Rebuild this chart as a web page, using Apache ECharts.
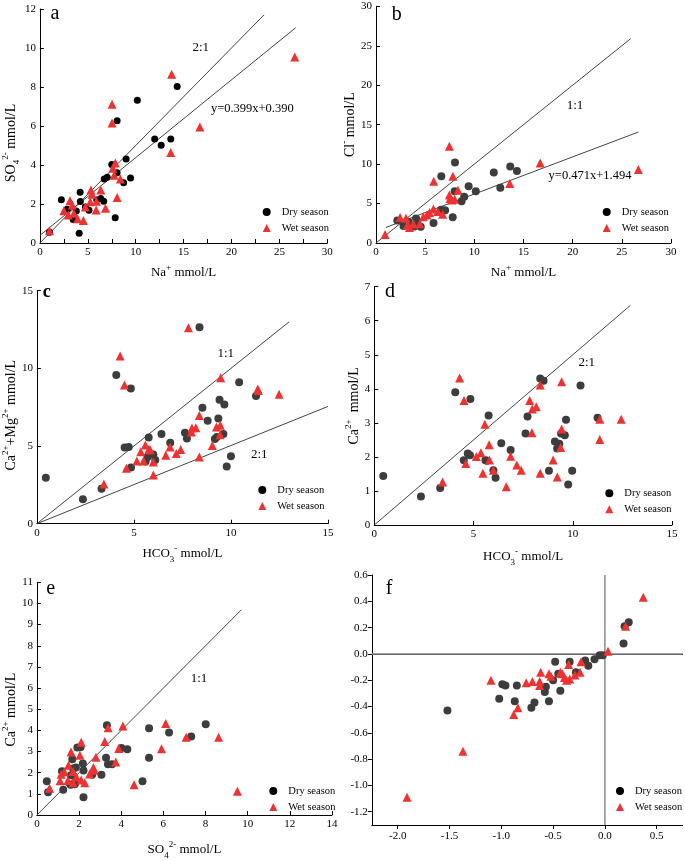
<!DOCTYPE html>
<html><head><meta charset="utf-8">
<script src="https://cdn.jsdelivr.net/npm/echarts@6/dist/echarts.min.js"></script>
<style>html,body{margin:0;padding:0;background:#fff}#c{width:685px;height:861px}</style>
</head><body><div id="c"></div>
<script>
// ---------- DATA ----------
const aDry = [[1.0,0.55],[2.24,2.22],[2.84,1.73],[3.48,1.21],[3.8,1.64],[4.2,2.6],[4.22,2.13],[4.1,0.5],[4.75,1.85],[5.12,1.68],[5.94,2.2],[6.35,2.28],[6.66,2.14],[6.72,3.28],[7.03,3.37],[7.5,4.02],[7.86,1.3],[8.06,6.27],[8.06,3.6],[8.74,3.09],[9.0,4.31],[9.46,3.33],[10.17,7.32],[11.98,5.33],[12.66,5.01],[13.66,5.33],[14.33,8.02]];
const aWet = [[1.0,0.63],[2.5,1.65],[2.97,1.44],[3.14,2.17],[3.38,1.95],[3.55,1.52],[3.93,1.25],[4.54,1.16],[4.75,1.84],[5.26,2.12],[5.33,2.72],[5.45,2.5],[5.87,1.69],[5.9,2.14],[6.35,2.72],[6.85,1.78],[7.53,7.12],[7.53,6.16],[7.61,3.83],[7.75,3.47],[7.87,4.1],[8.06,2.33],[8.4,3.28],[13.66,4.64],[13.75,8.65],[16.7,5.95],[26.6,9.54]];
const aLine21 = [[0,0],[23.4,11.7]];
const aReg = [[0,0.39],[26.7,11.04]];

const bDry = [[2.17,2.85],[2.8,2.15],[3.3,2.7],[3.46,2.15],[3.9,2.1],[4.07,3.12],[4.2,2.8],[4.55,2.06],[5.85,2.55],[6.64,8.45],[6.61,4.2],[7.03,4.15],[7.8,3.25],[8.03,10.2],[8.0,6.55],[8.7,5.3],[8.97,5.85],[9.42,7.2],[10.15,6.55],[11.98,8.92],[12.64,7.0],[13.65,9.68],[14.33,9.12]];
const bWet = [[0.92,1.07],[2.45,3.24],[3.05,3.15],[3.2,2.3],[3.4,1.98],[3.8,2.4],[4.45,2.45],[4.81,3.33],[5.18,3.54],[5.45,3.86],[5.84,4.3],[6.28,4.0],[6.78,3.65],[5.87,7.84],[7.46,12.25],[7.82,8.45],[7.46,6.07],[7.53,5.65],[7.7,5.45],[8.0,5.55],[8.34,6.68],[13.6,7.55],[16.7,10.15],[26.68,9.3]];
const bLine11 = [[0,0],[25.9,25.9]];
const bReg = [[1.0,1.97],[26.7,14.07]];

const cDry = [[0.46,2.96],[2.37,1.57],[3.33,2.25],[4.09,9.57],[4.52,4.9],[4.73,4.93],[4.84,8.71],[4.85,3.62],[5.6,4.0],[5.7,4.3],[5.76,5.55],[6.0,4.45],[6.1,4.1],[6.42,5.77],[6.87,5.21],[7.63,5.86],[7.73,5.49],[8.38,12.64],[8.53,7.47],[8.8,6.62],[9.35,6.77],[9.41,7.98],[9.66,7.68],[9.17,5.46],[9.27,5.58],[9.61,5.77],[9.78,3.68],[10.0,4.35],[10.42,9.1],[11.29,8.22]];
const cWet = [[3.45,2.55],[4.29,10.79],[4.51,8.93],[4.61,3.57],[5.15,4.03],[5.35,4.64],[5.5,4.03],[5.59,5.07],[5.77,4.8],[5.84,4.75],[6.0,3.97],[6.0,3.13],[6.64,4.4],[6.86,4.93],[7.18,4.52],[7.41,4.77],[7.81,12.62],[7.96,5.9],[7.99,6.16],[8.19,6.18],[8.37,6.96],[8.37,4.3],[9.04,5.03],[9.25,6.22],[9.45,6.33],[9.44,5.73],[9.47,9.4],[11.38,8.67],[11.41,8.58],[12.48,8.33]];
const cLine11 = [[0,0],[13.0,13.0]];
const cLine21 = [[0,0],[15,7.55]];

const dDry = [[0.45,1.44],[2.35,0.84],[3.32,1.09],[4.08,3.9],[4.51,1.9],[4.71,2.1],[4.82,2.05],[4.84,3.7],[5.6,1.9],[5.68,1.89],[5.76,3.22],[6.0,1.61],[6.11,1.39],[6.4,2.4],[6.87,2.2],[7.62,2.69],[7.72,3.19],[8.36,4.3],[8.53,4.24],[8.8,1.59],[9.1,2.45],[9.21,2.25],[9.32,2.39],[9.41,2.69],[9.6,2.64],[9.66,3.09],[9.77,1.19],[9.97,1.59],[10.39,4.1],[11.25,3.15]];
const dWet = [[3.44,1.26],[4.3,4.32],[4.52,3.66],[4.61,1.81],[5.14,2.01],[5.37,2.12],[5.47,1.52],[5.57,2.96],[5.79,2.36],[5.8,1.91],[6.0,1.61],[6.65,1.12],[6.87,2.02],[7.18,1.76],[7.4,1.61],[7.83,3.66],[7.94,2.71],[7.96,3.41],[8.16,3.47],[8.36,1.52],[8.36,4.11],[9.01,1.91],[9.22,1.41],[9.39,2.28],[9.44,2.82],[9.44,4.21],[11.36,3.11],[11.36,2.51],[12.44,3.11]];
const dLine21 = [[0,0],[12.9,6.45]];

const eDry = [[0.47,1.6],[0.53,1.08],[1.19,2.07],[1.25,1.19],[1.6,1.43],[1.62,1.88],[1.68,2.64],[1.72,2.2],[1.85,2.25],[1.8,1.45],[1.92,3.19],[2.07,3.2],[2.18,2.43],[2.21,2.1],[2.21,0.84],[2.62,1.9],[3.06,1.9],[3.28,2.71],[3.32,4.24],[3.37,2.4],[3.56,2.4],[4.01,3.17],[4.29,3.11],[5.01,1.6],[5.32,4.1],[5.32,2.71],[6.27,3.9],[7.32,3.71],[8.01,4.29]];
const eWet = [[0.6,1.27],[1.1,1.62],[1.15,1.93],[1.3,2.04],[1.5,2.35],[1.47,1.63],[1.62,2.98],[1.72,2.06],[1.72,1.53],[1.88,1.8],[2.04,2.82],[2.1,3.44],[2.1,1.65],[2.27,1.53],[2.5,1.94],[2.68,2.24],[2.72,2.12],[2.8,2.73],[3.22,3.48],[3.38,4.12],[3.74,2.51],[3.88,3.14],[4.08,4.21],[4.61,1.43],[5.91,3.13],[6.11,4.32],[7.08,3.68],[8.62,3.68],[9.51,1.12]];
const eLine11 = [[0,0],[9.7,9.7]];

const fDry = [[-1.52,-0.43],[-1.02,-0.34],[-0.99,-0.23],[-0.96,-0.24],[-0.87,-0.36],[-0.85,-0.24],[-0.71,-0.41],[-0.68,-0.37],[-0.58,-0.29],[-0.57,-0.25],[-0.54,-0.36],[-0.5,-0.2],[-0.48,-0.06],[-0.45,-0.15],[-0.43,-0.28],[-0.34,-0.06],[-0.28,-0.14],[-0.19,-0.05],[-0.16,-0.09],[-0.1,-0.04],[-0.05,-0.01],[-0.02,-0.01],[0.18,0.08],[0.19,0.21],[0.23,0.24]];
const fWet = [[-1.91,-1.09],[-1.37,-0.74],[-1.1,-0.2],[-0.88,-0.46],[-0.84,-0.41],[-0.76,-0.22],[-0.7,-0.21],[-0.63,-0.24],[-0.62,-0.14],[-0.63,-0.21],[-0.54,-0.15],[-0.52,-0.17],[-0.43,-0.14],[-0.41,-0.15],[-0.39,-0.18],[-0.37,-0.2],[-0.35,-0.08],[-0.34,-0.19],[-0.29,-0.16],[-0.24,-0.14],[-0.23,-0.06],[0.03,0.02],[0.2,0.21],[0.37,0.43]];
const fXTicks = [-2.0,-1.5,-1.0,-0.5,0.0,0.5];
const fYTicks = [-1.2,-1.0,-0.8,-0.6,-0.4,-0.2,0.0,0.2,0.4,0.6];
const fRefV = [[0,-1.3],[0,0.6]];
const fRefH = [[-2.25,0],[0.75,0]];

// ---------- CHART ----------
const chart = echarts.init(document.getElementById('c'), null, {renderer:'canvas'});
const FONT = '"Liberation Serif","Times New Roman",serif';
const RED = '#ee3232', GRAY = '#3d3d3d', BLACK = '#000';
function mkRich(fs){
  return {
    b:{fontSize:fs,fontFamily:FONT,color:'#000',lineHeight:20},
    sup:{fontSize:9,fontFamily:FONT,color:'#000',verticalAlign:'top'},
    sub:{fontSize:9,fontFamily:FONT,color:'#000',verticalAlign:'bottom'}
  };
}
const richV = mkRich(14), richH = mkRich(13);
const grids=[], xAxes=[], yAxes=[], series=[], legends=[], graphics=[];

function axisBase(extra, rich, pad){
  return Object.assign({
    type:'value', splitLine:{show:false},
    axisLine:{show:true,onZero:false,lineStyle:{color:'#000',width:1}},
    axisTick:{show:true,inside:true,length:4,lineStyle:{color:'#000'}},
    axisLabel:{fontFamily:FONT,fontSize:11,color:'#000',margin:4},
    nameLocation:'middle', nameTextStyle:{rich:rich,padding:pad||0}
  }, extra);
}

function panel(p){
  const i = grids.length;
  grids.push({left:p.g[0],top:p.g[1],width:p.g[2],height:p.g[3],containLabel:false});
  xAxes.push(axisBase(Object.assign({gridIndex:i,position:'bottom'},p.x), richH, 0));
  yAxes.push(axisBase(Object.assign({gridIndex:i,position:'left'},p.y), richV, [0,p.ypad||0,0,0]));
  (p.lines||[]).forEach(l=>series.push({type:'line',xAxisIndex:i,yAxisIndex:i,data:l.d,symbol:'none',silent:true,
    lineStyle:{color:l.c||'#444',width:l.w||1},z:1}));
  series.push({type:'scatter',name:'Dry season',xAxisIndex:i,yAxisIndex:i,data:p.dry,symbol:'circle',
    symbolSize:p.cs||8,itemStyle:{color:p.dc||GRAY,opacity:1},z:2});
  series.push({type:'scatter',name:'Wet season',xAxisIndex:i,yAxisIndex:i,data:p.wet,symbol:'triangle',
    symbolSize:9,itemStyle:{color:RED,opacity:1},z:3});
  legends.push({left:p.lg[0]-4,top:p.lg[1]-6,orient:'vertical',itemWidth:8,itemHeight:8,itemGap:4,padding:0,
    symbolKeepAspect:true,selectedMode:false,data:['Dry season','Wet season'],
    textStyle:{fontFamily:FONT,fontSize:10.5,color:'#000',lineHeight:12,padding:[0,0,0,6]}});
}
function txt(s,x,y,fs,bold){
  graphics.push({type:'text',x:x,y:y,style:{text:s,fill:'#000',font:(bold?'bold ':'')+fs+'px '+FONT,align:'center',verticalAlign:'middle'}});
}

// a
panel({g:[34.3,9,293,234],
  x:{min:0,max:30,interval:5,minorTick:{show:true,splitNumber:2,length:4,lineStyle:{color:'#000'}},
     name:'{b|Na}{sup|+}{b| mmol/L}',nameGap:20},
  y:{min:0,max:12,interval:2,name:'{b|SO}{sub|4}{sup|2-}{b| mmol/L}',nameGap:10},ypad:34,
  dry:aDry,wet:aWet,cs:7,dc:BLACK,lines:[{d:aLine21},{d:aReg}],lg:[266.7,212]});
// b
panel({g:[376,6.3,295,236.7],
  x:{min:0,max:30,interval:5,name:'{b|Na}{sup|+}{b| mmol/L}',nameGap:20},
  y:{min:0,max:30,interval:5,name:'{b|Cl}{sup|-}{b| mmol/L}',nameGap:13},
  dry:bDry,wet:bWet,lines:[{d:bLine11},{d:bReg}],lg:[606.7,212]});
// c
panel({g:[36.7,290.7,291.3,233],
  x:{min:0,max:15,interval:5,name:'{b|HCO}{sub|3}{sup|-}{b| mmol/L}',nameGap:20},
  y:{min:0,max:15,interval:5,name:'{b|Ca}{sup|2+}{b|+Mg}{sup|2+}{b| mmol/L}',nameGap:12},ypad:16,
  dry:cDry,wet:cWet,lines:[{d:cLine11},{d:cLine21}],lg:[262.3,490]});
// d
panel({g:[374.3,286.7,297.7,238.3],
  x:{min:0,max:15,interval:5,name:'{b|HCO}{sub|3}{sup|-}{b| mmol/L}',nameGap:22},
  y:{min:0,max:7,interval:1,name:'{b|Ca}{sup|2+}{b|  mmol/L}',nameGap:9},
  dry:dDry,wet:dWet,lines:[{d:dLine21}],lg:[609.3,493.3]});
// e
panel({g:[34.3,582.3,297.7,239.4],
  x:{min:0,max:14,interval:2,name:'{b|SO}{sub|4}{sup|2-}{b| mmol/L}',nameGap:25},
  y:{min:0,max:11,interval:1,name:'{b|Ca}{sup|2+}{b| mmol/L}',nameGap:8},ypad:22,
  dry:eDry,wet:eWet,lines:[{d:eLine11}],lg:[273.3,791]});
// f
panel({g:[371.8,575,310.8,249.9],
  x:{min:-2.25,max:0.75,axisTick:{show:true,inside:false,length:4,customValues:fXTicks,lineStyle:{color:'#000'}},
     axisLabel:{fontFamily:FONT,fontSize:11,color:'#000',margin:6,customValues:fXTicks,formatter:v=>v.toFixed(1)}},
  y:{min:-1.3,max:0.6,axisTick:{show:true,inside:false,length:4,customValues:fYTicks,lineStyle:{color:'#000'}},
     axisLabel:{fontFamily:FONT,fontSize:11,color:'#000',margin:4,customValues:fYTicks,formatter:v=>v.toFixed(1)}},
  dry:fDry,wet:fWet,lines:[{d:fRefV,c:'#8a8a8a',w:1.5},{d:fRefH,c:'#8a8a8a',w:1.5}],lg:[620,791]});
// top border of f
xAxes.push({type:'value',gridIndex:5,position:'top',min:-2.25,max:0.75,axisLine:{show:true,lineStyle:{color:'#000'}},
  axisTick:{show:false},axisLabel:{show:false},splitLine:{show:false}});

txt('a',55,13.3,20); txt('b',396.7,15,20); txt('c',46.7,292.3,18,true);
txt('d',390,291.7,20); txt('e',50.7,588.3,20); txt('f',389,588.3,20);
txt('2:1',200.7,47.7,13); txt('y=0.399x+0.390',252.3,109,12.5);
txt('1:1',575,106,13); txt('y=0.471x+1.494',590,175.7,12.5);
txt('1:1',225.7,353.3,13); txt('2:1',259.3,455,13);
txt('2:1',586.7,362.3,13); txt('1:1',199,678.3,13);

chart.setOption({animation:false,backgroundColor:'#fff',grid:grids,xAxis:xAxes,yAxis:yAxes,series:series,legend:legends,graphic:graphics});
</script></body></html>
